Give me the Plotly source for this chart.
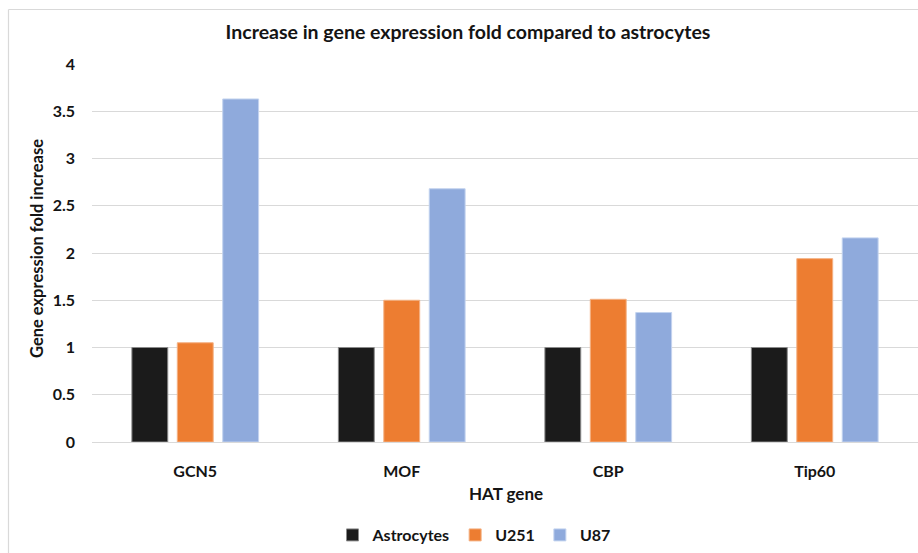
import plotly.graph_objects as go

# HAT genes and fold-change of expression relative to astrocytes
genes = ["GCN5", "MOF", "CBP", "Tip60"]
astrocytes = [1.0, 1.0, 1.0, 1.0]
u251 = [1.05, 1.50, 1.51, 1.94]
u87 = [3.63, 2.68, 1.37, 2.16]
y_ticks = [0, 0.5, 1, 1.5, 2, 2.5, 3, 3.5, 4]

FONT = "Lato, Calibri, Carlito, sans-serif"
INK = "#141414"

series = [
    ("Astrocytes", astrocytes, "#1b1b1b", "#8a8a8a"),
    ("U251", u251, "#ED7D31", "#f4b183"),
    ("U87", u87, "#8FAADC", "#c3d3ef"),
]

fig = go.Figure()
for name, vals, color, edge in series:
    fig.add_trace(go.Bar(
        name=name, x=genes, y=vals,
        marker=dict(color=color, line=dict(color=edge, width=1)),
    ))

L, T, R, B = 92, 64, 0, 111
W, H = 918, 553
pw, ph = W - L - R, H - T - B

def px_x(x):
    return (x - L) / pw

def px_y(y):
    return (H - B - y) / ph

fig.update_layout(
    width=W, height=H,
    margin=dict(l=L, r=R, t=T, b=B, pad=0),
    paper_bgcolor="white", plot_bgcolor="white",
    barmode="group", bargap=0.34, bargroupgap=0.21,
    font=dict(family=FONT, color=INK),
    title=dict(
        text="<b>Increase in gene expression fold compared to astrocytes</b>",
        x=px_x(468), xref="paper", xanchor="center",
        y=1 - 32 / H, yref="container", yanchor="middle",
        font=dict(size=19.5, family=FONT, color=INK),
    ),
    xaxis=dict(
        showgrid=False, showline=True, linecolor="#d9d9d9", linewidth=1,
        tickfont=dict(size=16, family=FONT, color=INK, weight="bold"),
        ticklabelstandoff=15,
    ),
    yaxis=dict(
        range=[0, 4], tickvals=y_ticks,
        showgrid=True, gridcolor="#d9d9d9", gridwidth=1,
        zeroline=True, zerolinecolor="#d9d9d9", zerolinewidth=1,
        showline=False,
        tickfont=dict(size=16, family=FONT, color=INK, weight="bold"),
        ticklabelstandoff=16,
    ),
    legend=dict(
        orientation="h", x=px_x(474), xanchor="center",
        y=px_y(535), yanchor="middle",
        font=dict(size=16, family=FONT, color=INK, weight="bold"),
        itemwidth=30, traceorder="normal",
        bgcolor="rgba(0,0,0,0)",
    ),
    showlegend=True,
)

# axis titles
fig.add_annotation(
    text="<b>Gene expression fold increase</b>",
    x=px_x(37), y=px_y(249), xref="paper", yref="paper",
    textangle=-90, showarrow=False,
    font=dict(size=16.5, family=FONT, color=INK),
    xanchor="center", yanchor="middle",
)
fig.add_annotation(
    text="<b>HAT gene</b>",
    x=px_x(506), y=px_y(493), xref="paper", yref="paper",
    showarrow=False,
    font=dict(size=17, family=FONT, color=INK),
    xanchor="center", yanchor="middle",
)

# chart-area frame (left and top edges)
fig.add_shape(type="line", xref="paper", yref="paper",
              x0=px_x(8.5), x1=px_x(8.5), y0=px_y(560), y1=px_y(9.5),
              line=dict(color="#d9d9d9", width=1.2))
fig.add_shape(type="line", xref="paper", yref="paper",
              x0=px_x(8.5), x1=px_x(930), y0=px_y(9.5), y1=px_y(9.5),
              line=dict(color="#d9d9d9", width=1.2))

fig.write_html("out.html")
